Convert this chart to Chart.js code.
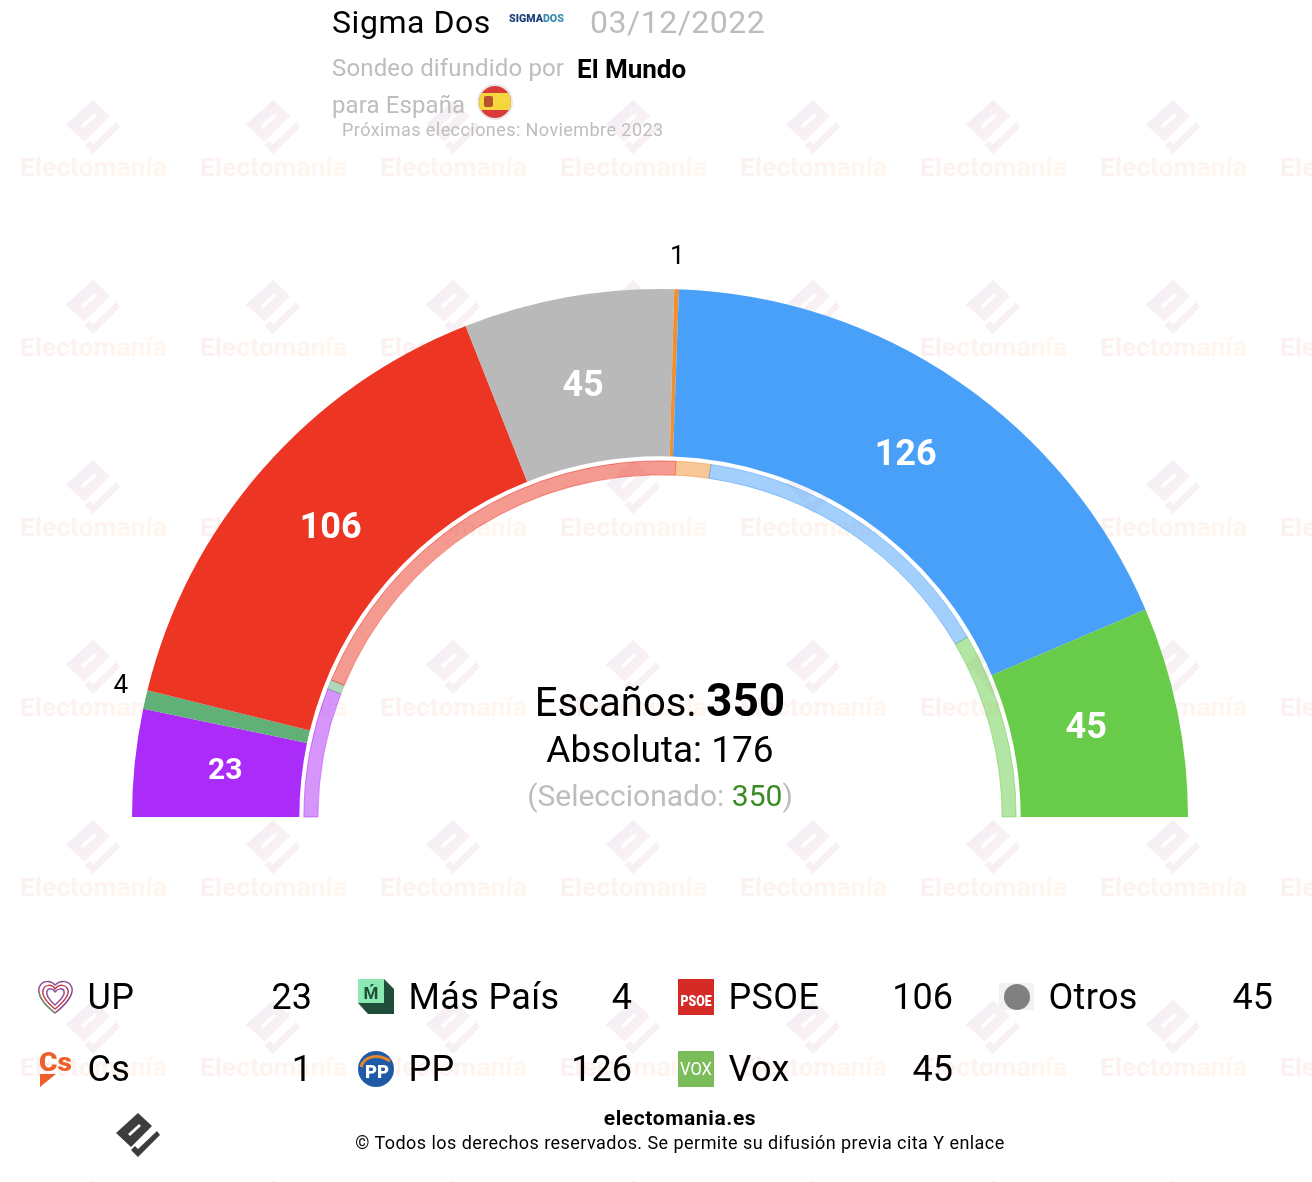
<!DOCTYPE html>
<html lang="es"><head><meta charset="utf-8">
<script src="https://cdn.jsdelivr.net/npm/chart.js@4"></script>
<style>
html,body{margin:0;padding:0;background:#fff}
body{width:1312px;height:1182px;position:relative;overflow:hidden;font-family:Roboto,sans-serif;color:#000}
.t{position:absolute;white-space:nowrap;line-height:1}
.c{transform:translateX(-50%)}
#wm,#icons{position:absolute;left:0;top:0}
#chart{position:absolute;left:100px;top:230px}
.g{color:#bdbdbd}
</style></head><body>
<svg id="wm" width="1312" height="1182" xmlns="http://www.w3.org/2000/svg">
<defs>
<linearGradient id="wg1" x1="0" y1="0" x2="1" y2="1"><stop offset="0" stop-color="#f2eef9"/><stop offset="1" stop-color="#fcf2ef"/></linearGradient>
<linearGradient id="wg2" x1="0" y1="0" x2="1" y2="0"><stop offset="0" stop-color="#fcf1f1"/><stop offset="1" stop-color="#fff7ee"/></linearGradient>
<g id="mark">
<path fill-rule="evenodd" d="M0-22 14-9-7 12-22-2ZM-10-1-8 1 3-9 1-11Z"/>
<path d="M-7 15 0 22 22 0 19-4 0 14-3 11Z"/>
</g>
</defs>
</svg>
<canvas id="chart" width="1120" height="590" style="width:1120px;height:590px"></canvas>
<svg id="icons" width="1312" height="1182" xmlns="http://www.w3.org/2000/svg" font-family="Roboto">
<!-- flag -->
<circle cx="495" cy="102" r="18" fill="#e8e8e8"/><clipPath id="fc"><circle cx="495" cy="102" r="16"/></clipPath>
<g clip-path="url(#fc)"><rect x="478" y="85" width="34" height="34" fill="#d93a3a"/><rect x="478" y="93" width="34" height="17" fill="#f5d63d"/><rect x="484" y="96" width="9" height="11" rx="2" fill="#b5532c"/></g>
<!-- Sigma Dos logo -->
<text x="509" y="22" font-size="10.7" font-weight="900"><tspan fill="#1c3f7c">SIGMA</tspan><tspan fill="#3d8db0">DOS</tspan></text>
<!-- UP -->
<g fill="none" stroke-width="1.5" stroke-linejoin="round">
<path stroke="#8e4a94" d="M55 1013C40 1001 38 993 39 988 41 981 50 979 55 985 61 979 70 981 72 988 73 994 69 1002 55 1013Z"/>
<path stroke="#c23a4a" d="M55 1009C44 1000 42 994 43 990 45 984 52 984 55 989 59 984 66 984 68 990 69 994 66 1000 55 1009Z"/>
<path stroke="#8e4a94" d="M55 1005C47 998 46 994 47 991 48 988 53 988 55 992 58 988 63 988 64 991 65 994 63 998 55 1005Z"/>
<path stroke="#6a9a5a" d="M39 992C40 1000 47 1007 55 1013" />
</g>
<!-- Mas Pais -->
<path d="M384 979 394 989 394 1014 368 1014 358 1003Z" fill="#1f4d3a"/>
<rect x="358" y="979" width="26" height="24" fill="#8be9b2"/>
<text x="371" y="999" font-size="17" font-weight="700" fill="#1f4d3a" text-anchor="middle">Ḿ</text>
<!-- PSOE -->
<rect x="678" y="979" width="36" height="36" fill="#d52b27"/>
<text x="696" y="1006" font-size="14.5" font-weight="900" fill="#fff" text-anchor="middle" textLength="31" lengthAdjust="spacingAndGlyphs">PSOE</text>
<!-- Otros -->
<rect x="999" y="983" width="35" height="27" fill="#f2f2f2"/>
<circle cx="1017" cy="997" r="13" fill="#808080"/>
<!-- Cs -->
<text x="39" y="1071" font-size="25" font-weight="900" fill="#ef5f2b" textLength="33" lengthAdjust="spacingAndGlyphs">Cs</text>
<path d="M40 1074H56L40 1087Z" fill="#ef5f2b"/>
<!-- PP -->
<circle cx="376" cy="1069" r="18" fill="#1f5aa6"/>
<path d="M361 1067C364 1056 378 1053 390 1061" fill="none" stroke="#e8862a" stroke-width="3"/>
<text x="377" y="1078" font-size="19" font-weight="900" fill="#fff" text-anchor="middle" textLength="24" lengthAdjust="spacingAndGlyphs">PP</text>
<!-- Vox -->
<rect x="678" y="1051" width="36" height="36" fill="#7bbd5a"/>
<text x="696" y="1075" font-size="19" fill="#fff" text-anchor="middle" textLength="32" lengthAdjust="spacingAndGlyphs">VOX</text>
<!-- footer logo -->
<use href="#mark" x="138" y="1135" fill="#3d3d3d"/>
</svg>

<div class="t" style="left:332px;top:6px;font-size:32px;letter-spacing:.55px">Sigma Dos</div>
<div class="t g" style="left:590px;top:6px;font-size:32px;letter-spacing:.5px">03/12/2022</div>
<div class="t g" style="left:332px;top:56px;font-size:24px;letter-spacing:.15px">Sondeo difundido por</div>
<div class="t" style="left:577px;top:56px;font-size:26px;font-weight:700">El Mundo</div>
<div class="t g" style="left:332px;top:93px;font-size:24px;letter-spacing:.1px">para España</div>
<div class="t g" style="left:342px;top:121px;font-size:18px;letter-spacing:.43px">Próximas elecciones: Noviembre 2023</div>

<div class="t c" style="left:660px;top:677px;font-size:40px">Escaños: <b style="font-size:46px">350</b></div>
<div class="t c" style="left:660px;top:731px;font-size:37px">Absoluta: 176</div>
<div class="t c g" style="left:660px;top:781px;font-size:30px">(Seleccionado: <span style="color:#3b8a24">350</span>)</div>

<div id="legend"></div>
<div class="t c" style="left:680px;top:1108px;font-size:21px;font-weight:700;letter-spacing:.6px">electomania.es</div>
<div class="t c" style="left:680px;top:1134px;font-size:18px;letter-spacing:.45px">© Todos los derechos reservados. Se permite su difusión previa cita Y enlace</div>

<script>
const parties = ['UP','Más País','PSOE','Otros','Cs','PP','Vox'];
const seats = [23,4,106,45,1,126,45];
const previousSeats = [41,3,136,0,11,100,59];
const colors = ['#ab2bf8','#60b078','#ec3523','#b9b9b9','#f09030','#48a0f9','#68cb4a'];
const softColors = ['rgba(171,43,248,.5)','rgba(96,176,120,.5)','rgba(236,53,35,.5)','rgba(185,185,185,.5)','rgba(240,144,48,.5)','rgba(72,160,249,.5)','rgba(104,203,74,.5)'];
const legendOrder = [[0,1,2,3],[4,5,6]];
const watermarkColumns = [93,273,453,633,813,993,1173,1353];
const watermarkRows = [127,307,487,667,847,1027,1207];

/* watermark */
const wm = document.getElementById('wm'), NS='http://www.w3.org/2000/svg';
watermarkRows.forEach(y=>watermarkColumns.forEach(x=>{
  const g=document.createElementNS(NS,'g');
  g.setAttribute('transform',`translate(${x} ${y}) scale(1.23)`);
  g.setAttribute('fill','url(#wg1)');
  const u=document.createElementNS(NS,'use'); u.setAttribute('href','#mark'); g.appendChild(u); wm.appendChild(g);
  const t=document.createElementNS(NS,'text');
  t.setAttribute('x',x-73); t.setAttribute('y',y+49); t.setAttribute('font-family','Roboto');
  t.setAttribute('font-size','26.5'); t.setAttribute('font-weight','700'); t.setAttribute('fill','url(#wg2)');
  t.textContent='Electomanía'; wm.appendChild(t);
}));

/* legend */
const nameX=[88,409,729,1049], valueR=[312,632,953,1273], rowY=[977,1049];
const lg=document.getElementById('legend');
legendOrder.forEach((row,r)=>row.forEach((p,c)=>{
  const n=document.createElement('div'); n.className='t'; n.textContent=parties[p];
  n.style.cssText=`left:${nameX[c]-0.5}px;top:${rowY[r]}px;font-size:36px;line-height:40px;letter-spacing:.35px`;
  const v=document.createElement('div'); v.className='t'; v.textContent=seats[p];
  v.style.cssText=`right:${1312-valueR[c]}px;top:${rowY[r]}px;font-size:36px;line-height:40px`;
  lg.append(n,v);
}));

/* seat labels drawn from the arcs */
const seatLabels={id:'seatLabels',afterDatasetsDraw(chart){
  const ctx=chart.ctx, meta=chart.getDatasetMeta(0);
  ctx.save(); ctx.textAlign='center'; ctx.textBaseline='middle';
  meta.data.forEach((arc,i)=>{
    const {x,y,startAngle,endAngle,outerRadius}=arc.getProps(['x','y','startAngle','endAngle','outerRadius'],true);
    const a=(startAngle+endAngle)/2, v=seats[i];
    if(v<10){
      const r=outerRadius+25;
      ctx.fillStyle='#000'; ctx.font='26px Roboto';
      ctx.fillText(v,x+Math.cos(a)*r,y+Math.sin(a)*r-7);
    }else{
      const r=outerRadius-92;
      ctx.fillStyle='#fff'; ctx.font='700 '+(v<30?30:36)+'px Roboto';
      ctx.fillText(v,x+Math.cos(a)*r-1,y+Math.sin(a)*r-1);
    }
  });
  ctx.restore();
}};

document.fonts.load('700 36px Roboto').then(()=>document.fonts.ready).finally(()=>{
new Chart(document.getElementById('chart'),{
  type:'doughnut',
  data:{labels:parties,datasets:[
    {data:seats,backgroundColor:colors,borderWidth:0,hoverBorderWidth:0,weight:167,hoverOffset:0},
    {data:[],weight:4.5,borderWidth:0,hoverOffset:0},
    {data:previousSeats,backgroundColor:softColors,borderColor:softColors,borderWidth:1,hoverBorderWidth:1,weight:14,hoverOffset:0}
  ]},
  options:{responsive:false,animation:false,devicePixelRatio:1,rotation:-90,circumference:180,cutout:'64.8%',
    layout:{padding:{left:32,right:32,top:59,bottom:3}},events:[],
    plugins:{legend:{display:false},tooltip:{enabled:false},title:{display:false}}},
  plugins:[seatLabels]
});
});
</script>
</body></html>
